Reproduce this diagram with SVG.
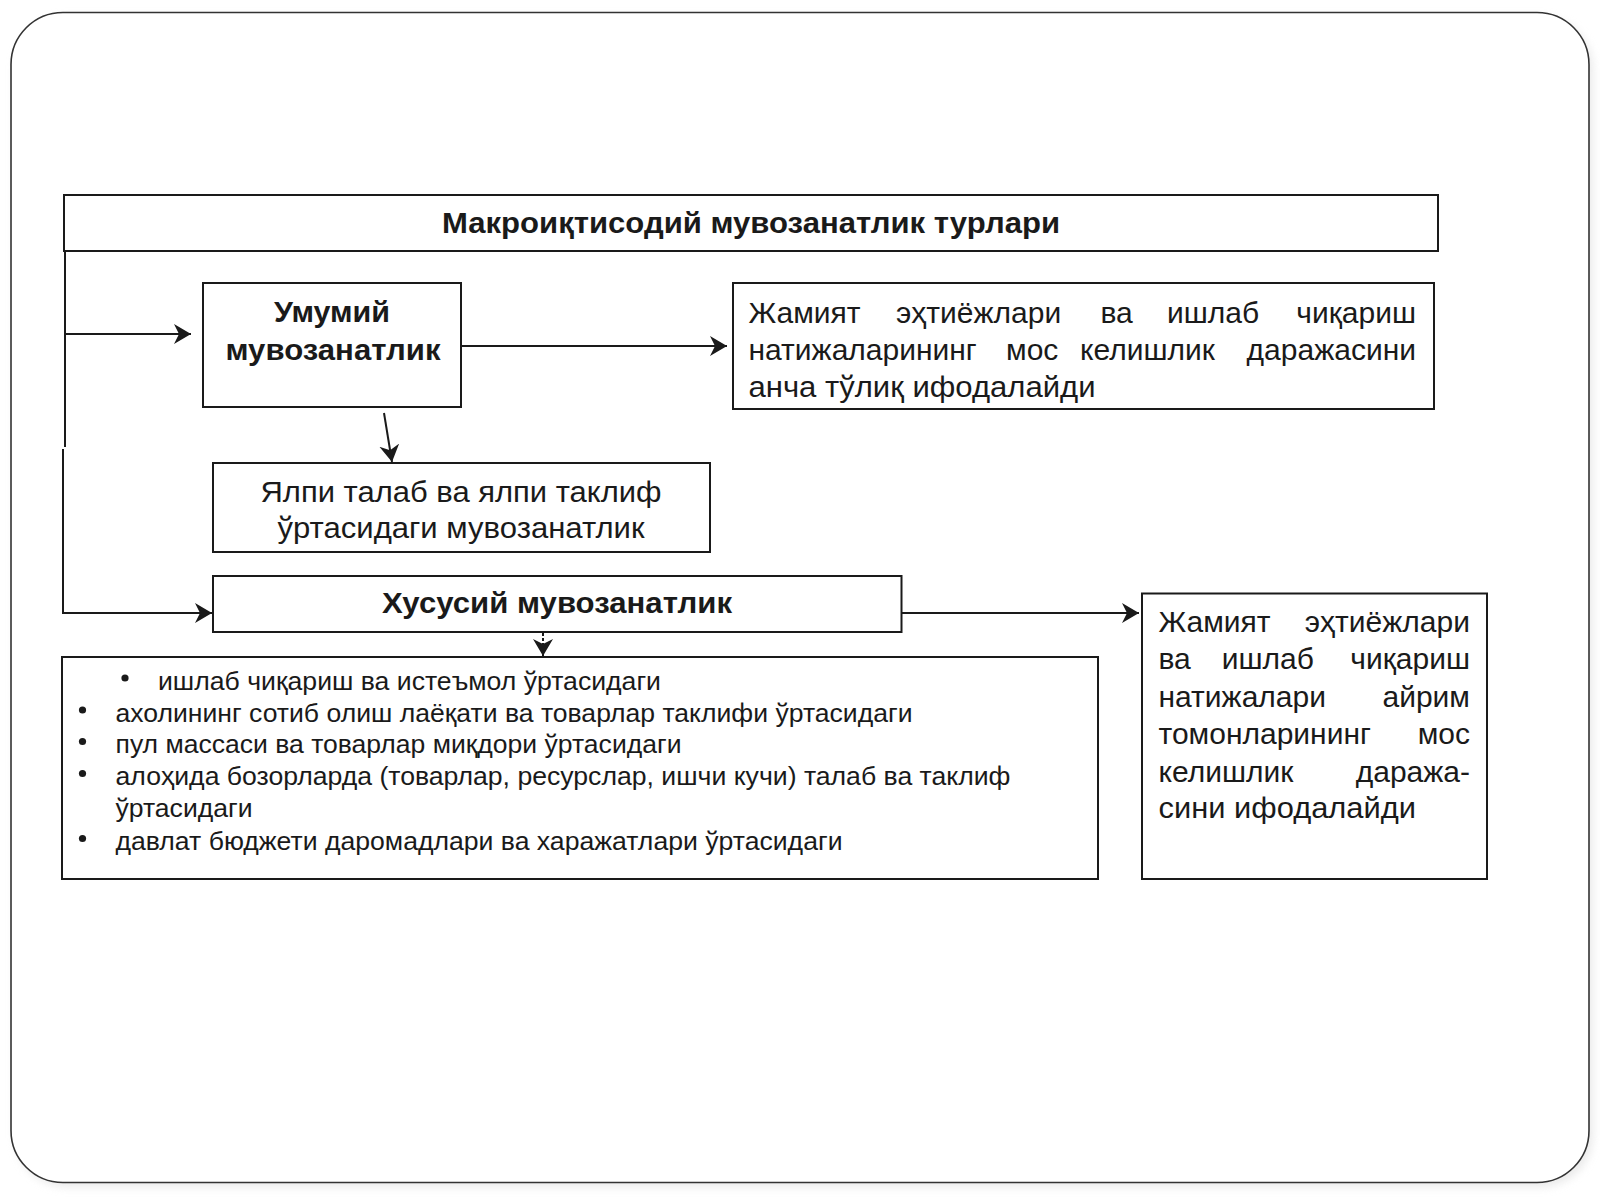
<svg xmlns="http://www.w3.org/2000/svg" width="1600" height="1200" viewBox="0 0 1600 1200">
<style>
.box{fill:#fff;stroke:#1a1a1a;stroke-width:2}
.ln{fill:none;stroke:#1a1a1a;stroke-width:2}
.t{font-family:"Liberation Sans",Arial,sans-serif;fill:#1a1a1a}
.b{font-weight:bold;font-size:29px}
.r{font-size:30px}
.s{font-size:25px}
.blt{fill:#1a1a1a}
</style>
<defs>
<marker id="ah" markerUnits="userSpaceOnUse" markerWidth="20" markerHeight="22" refX="17" refY="10" orient="auto">
<path d="M0,0 L17,10 L0,20 L5,10 z" fill="#1a1a1a"/>
</marker>
<filter id="sh" x="-5%" y="-5%" width="110%" height="110%">
<feGaussianBlur stdDeviation="4"/>
</filter>
</defs>
<rect width="1600" height="1200" fill="#fff"/>
<g id="frame">
<rect x="15" y="17" width="1578" height="1170" rx="52" fill="#ddd" opacity="0.6" filter="url(#sh)"/>
<rect x="11" y="12.5" width="1578" height="1170" rx="52" fill="#fff" stroke="#333" stroke-width="1.6"/>
</g>
<g id="title">
<rect class="box" x="64" y="195" width="1374" height="56"/>
<text class="t b" x="751" y="233" text-anchor="middle" textLength="618" lengthAdjust="spacingAndGlyphs">Макроиқтисодий мувозанатлик турлари</text>
</g>
<g id="umumiy">
<rect class="box" x="203" y="283" width="258" height="124"/>
<text class="t b" x="332" y="321.5" text-anchor="middle" textLength="116" lengthAdjust="spacingAndGlyphs">Умумий</text>
<text class="t b" x="333" y="360" text-anchor="middle" textLength="215" lengthAdjust="spacingAndGlyphs">мувозанатлик</text>
</g>
<g id="umumiy-desc">
<rect class="box" x="733" y="283" width="701" height="126"/>
<text class="t r" y="322.5"><tspan x="748.5">Жамият</tspan><tspan x="896">эҳтиёжлари</tspan><tspan x="1100.5">ва</tspan><tspan x="1167">ишлаб</tspan><tspan x="1416" text-anchor="end">чиқариш</tspan></text>
<text class="t r" y="360"><tspan x="748.5">натижаларининг</tspan><tspan x="1006">мос</tspan><tspan x="1080">келишлик</tspan><tspan x="1416" text-anchor="end">даражасини</tspan></text>
<text class="t r" x="748.5" y="397" textLength="347" lengthAdjust="spacingAndGlyphs">анча тўлиқ ифодалайди</text>
</g>
<g id="yalpi">
<rect class="box" x="213" y="463" width="497" height="89"/>
<text class="t r" x="461" y="501.5" text-anchor="middle" textLength="401" lengthAdjust="spacingAndGlyphs">Ялпи талаб ва ялпи таклиф</text>
<text class="t r" x="461" y="538" text-anchor="middle" textLength="367" lengthAdjust="spacingAndGlyphs">ўртасидаги мувозанатлик</text>
</g>
<g id="xususiy">
<rect class="box" x="213" y="576" width="688.5" height="56"/>
<text class="t b" x="557" y="613" text-anchor="middle" textLength="350" lengthAdjust="spacingAndGlyphs">Хусусий мувозанатлик</text>
</g>
<g id="xususiy-list">
<rect class="box" x="62" y="657" width="1036" height="222"/>
<circle class="blt" cx="125" cy="678" r="3.6"/>
<circle class="blt" cx="82.5" cy="710" r="3.6"/>
<circle class="blt" cx="82.5" cy="741.5" r="3.6"/>
<circle class="blt" cx="82.5" cy="773.5" r="3.6"/>
<circle class="blt" cx="82.5" cy="838.5" r="3.6"/>
<text class="t s" x="158" y="690" textLength="503" lengthAdjust="spacingAndGlyphs">ишлаб чиқариш ва истеъмол ўртасидаги</text>
<text class="t s" x="115.5" y="721.5" textLength="797" lengthAdjust="spacingAndGlyphs">ахолининг сотиб олиш лаёқати ва товарлар таклифи ўртасидаги</text>
<text class="t s" x="115.5" y="752.5" textLength="566" lengthAdjust="spacingAndGlyphs">пул массаси ва товарлар миқдори ўртасидаги</text>
<text class="t s" x="115.5" y="785" textLength="895" lengthAdjust="spacingAndGlyphs">алоҳида бозорларда (товарлар, ресурслар, ишчи кучи) талаб ва таклиф</text>
<text class="t s" x="115.5" y="816.5" textLength="137" lengthAdjust="spacingAndGlyphs">ўртасидаги</text>
<text class="t s" x="115.5" y="850" textLength="727" lengthAdjust="spacingAndGlyphs">давлат бюджети даромадлари ва харажатлари ўртасидаги</text>
</g>
<g id="xususiy-desc">
<rect class="box" x="1142" y="593.5" width="345" height="285.5"/>
<text class="t r" y="631.5"><tspan x="1158.5">Жамият</tspan><tspan x="1470" text-anchor="end">эҳтиёжлари</tspan></text>
<text class="t r" y="669.3"><tspan x="1158.5">ва</tspan><tspan x="1221.7">ишлаб</tspan><tspan x="1470" text-anchor="end">чиқариш</tspan></text>
<text class="t r" y="706.7"><tspan x="1158.5">натижалари</tspan><tspan x="1470" text-anchor="end">айрим</tspan></text>
<text class="t r" y="744"><tspan x="1158.5">томонларининг</tspan><tspan x="1470" text-anchor="end">мос</tspan></text>
<text class="t r" y="781.7"><tspan x="1158.5">келишлик</tspan><tspan x="1470" text-anchor="end">даража-</tspan></text>
<text class="t r" x="1158.5" y="818" textLength="257.5" lengthAdjust="spacingAndGlyphs">сини ифодалайди</text>
</g>
<g id="connectors">
<path class="ln" d="M65,251 V447"/>
<path class="ln" d="M63,449 V614"/>
<path class="ln" d="M65,334 H191" marker-end="url(#ah)"/>
<path class="ln" d="M461,346 H727" marker-end="url(#ah)"/>
<path class="ln" d="M384,413 L392,462" marker-end="url(#ah)"/>
<path class="ln" d="M62,613 H212" marker-end="url(#ah)"/>
<path class="ln" d="M901.5,613 H1139" marker-end="url(#ah)"/>
<path class="ln" d="M543,633 V656" stroke-dasharray="3,2" marker-end="url(#ah)"/>
</g>
</svg>
